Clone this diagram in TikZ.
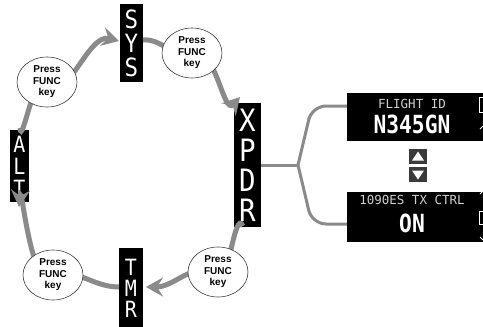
\documentclass[tikz,border=0pt]{standalone}
\usepackage{fontspec}
\usetikzlibrary{shapes.geometric,arrows.meta,calc}
\newfontfamily\lblfont{Liberation Sans}
\newfontfamily\dispfont{DejaVu Sans Mono}
\newcommand\vletter[1]{\scalebox{1.25}[1.4]{#1}}
\definecolor{arcgray}{HTML}{8A8A8A}
\definecolor{icongray}{HTML}{3A3A3A}
\definecolor{dimtext}{HTML}{D0D0D0}
\tikzset{
  vbox/.style={fill=black, text=white, inner sep=0pt, align=center},
  fnc/.style={ellipse, draw=black!75, line width=0.6pt, fill=white, minimum width=60pt, minimum height=50pt, inner sep=0pt, align=center,
    font=\lblfont\bfseries\fontsize{10}{11.5}\selectfont},
  cyc/.style={draw=arcgray, line width=5pt, -{Stealth[length=17pt,width=19pt,inset=6pt]}},
  brk/.style={draw=arcgray, line width=3pt, rounded corners=14pt},
  disp/.style={fill=black, inner sep=0pt},
  smalltxt/.style={text=dimtext, inner sep=0pt, font=\dispfont\fontsize{12.5}{13}\selectfont},
  bigtxt/.style={text=white, inner sep=0pt, font=\dispfont\bfseries\fontsize{25}{26}\selectfont},
  icon/.style={fill=icongray, minimum width=18pt, minimum height=15pt, inner sep=0pt},
  tri/.style={fill=white, draw=none}
}
\begin{document}
\begin{tikzpicture}[x=1pt,y=-1pt]
\useasboundingbox (0,0) rectangle (483,327);
% mode boxes
\node[vbox, minimum width=23pt, minimum height=78pt, font=\dispfont\fontsize{18}{24}\selectfont] (sys) at (131.5,43) {\vletter{S}\\\vletter{Y}\\\vletter{S}};
\node[vbox, minimum width=19pt, minimum height=72pt, font=\dispfont\fontsize{16}{22}\selectfont] (alt) at (19.5,166) {\vletter{A}\\\vletter{L}\\\vletter{T}};
\node[vbox, minimum width=27pt, minimum height=124pt, font=\dispfont\fontsize{22}{30}\selectfont] (xpdr) at (247.5,165) {\vletter{X}\\\vletter{P}\\\vletter{D}\\\vletter{R}};
\node[vbox, minimum width=24pt, minimum height=80pt, font=\dispfont\fontsize{16}{21}\selectfont] (tmr) at (131,288) {\vletter{T}\\\vletter{M}\\\vletter{R}};
% key ellipse positions and arc end points
\coordinate (e1) at (47,82);
\coordinate (e2) at (192,53);
\coordinate (e3) at (218,272);
\coordinate (e4) at (53,275);
\coordinate (s1) at (20,128);
\coordinate (t1) at (119,41);
\coordinate (s2) at (143,40);
\coordinate (t2) at (240,97);
\coordinate (s3) at (243,226);
\coordinate (t3) at (146,287);
\coordinate (s4) at (119,287);
\coordinate (t4) at (19,207);
% cycle arcs
\draw[cyc] (s1) to[out=275,in=125] (e1) to[out=305,in=165] (t1);
\draw[cyc] (s2) to[out=5,in=200] (e2) to[out=20,in=228] (t2);
\draw[cyc] (s3) to[out=115,in=300] (e3) to[out=160,in=0] (t3);
\draw[cyc] (s4) to[out=180,in=15] (e4) to[out=220,in=85] (t4);
% ellipses on top
\node[fnc] (k1) at (e1) {Press\\FUNC\\key};
\node[fnc] (k2) at (e2) {Press\\FUNC\\key};
\node[fnc] (k3) at (e3) {Press\\FUNC\\key};
\node[fnc] (k4) at (e4) {Press\\FUNC\\key};
% displays
\node[disp, minimum width=136pt, minimum height=48pt] (fid) at (415,117) {};
\node[disp, minimum width=136pt, minimum height=50pt] (txc) at (415,217) {};
\node[smalltxt] (fidl) at (412,104) {FLIGHT ID};
\node[bigtxt] (fidv) at (412,124) {\scalebox{0.85}[1]{N345GN}};
\node[smalltxt] (txcl) at (412,200) {1090ES TX CTRL};
\node[bigtxt] (txcv) at (412,223) {\scalebox{0.85}[1]{ON}};
% cut-off glyph fragments at right edge
\draw[white, line width=0.8pt] (479.5,97) rectangle (483,112);
\draw[white, line width=1pt] (480,129) -- (483,126);
\draw[white, line width=1pt] (480,194) -- (483,191);
\draw[white, line width=0.8pt] (479.5,211) rectangle (483,224);
\draw[white, line width=1pt] (480,237) -- (483,240);
% bracket connector
\coordinate (fork) at (298,165);
\coordinate (up) at (312,106);
\coordinate (dn) at (312,224);
\draw[draw=arcgray, line width=3pt] (xpdr.east) -- (fork);
\draw[brk] (fork) -- (up) -- (fid.west |- up);
\draw[brk] (fork) -- (dn) -- (txc.west |- dn);
% up/down icon
\node[icon] (iup) at (418,156.5) {};
\node[icon] (idn) at (418,174.5) {};
\fill[tri] ($(iup.center)+(-6,4)$) -- ($(iup.center)+(6,4)$) -- ($(iup.center)+(0,-5)$) -- cycle;
\fill[tri] ($(idn.center)+(-6,-4)$) -- ($(idn.center)+(6,-4)$) -- ($(idn.center)+(0,5)$) -- cycle;
\end{tikzpicture}
\end{document}
